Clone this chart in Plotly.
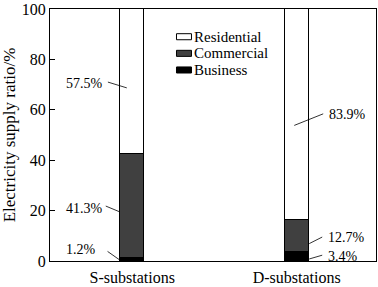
import plotly.graph_objects as go

categories = ["S-substations", "D-substations"]
series_names = ["Business", "Commercial", "Residential"]
business = [1.2, 3.4]
commercial = [41.3, 12.7]
residential = [57.5, 83.9]
colors = {"Business": "#000000", "Commercial": "#404040", "Residential": "#ffffff"}
label_text = {
    "Residential": ["57.5%", "83.9%"],
    "Commercial": ["41.3%", "12.7%"],
    "Business": ["1.2%", "3.4%"],
}
legend_order = ["Residential", "Commercial", "Business"]
yticks = [0, 20, 40, 60, 80, 100]

FONT = "Liberation Serif"
BAR_W = 0.145
xpos = [0, 1]

fig = go.Figure()
values = {"Business": business, "Commercial": commercial, "Residential": residential}
for name in series_names:
    fig.add_trace(go.Bar(
        x=xpos, y=values[name], name=name, width=BAR_W,
        marker=dict(color=colors[name], line=dict(color="black", width=1)),
        showlegend=False,
    ))

# leader lines + labels: (series, index, tip dx, tip y, tail dx, tail y, text dx, text y) in data units
leaders = [
    ("Residential", 0, -0.033, 68.7, -0.148, 71.0, -0.29, 70.6),
    ("Commercial", 0, -0.076, 19.5, -0.161, 21.8, -0.29, 21.0),
    ("Business", 0, -0.076, 0.4, -0.15, 3.8, -0.31, 4.6),
    ("Residential", 1, -0.015, 53.8, 0.161, 58.4, 0.309, 58.0),
    ("Commercial", 1, 0.076, 6.9, 0.155, 9.5, 0.30, 9.5),
    ("Business", 1, 0.076, 0.8, 0.155, 2.3, 0.279, 1.9),
]
for name, i, tx, ty, ax_, ay_, lx, ly in leaders:
    fig.add_shape(type="line", xref="x", yref="y",
                  x0=xpos[i] + tx, y0=ty, x1=xpos[i] + ax_, y1=ay_,
                  line=dict(color="black", width=0.8))
    fig.add_annotation(x=xpos[i] + lx, y=ly, xref="x", yref="y",
                       text=label_text[name][i], showarrow=False,
                       font=dict(family=FONT, size=14, color="black"))

# custom compact legend (paper coordinates)
leg_x0, leg_x1, leg_y0, leg_dy, leg_h = 0.388, 0.434, 0.89, 0.066, 0.012
for k, name in enumerate(legend_order):
    yc = leg_y0 - k * leg_dy
    fig.add_shape(type="rect", xref="paper", yref="paper",
                  x0=leg_x0, x1=leg_x1, y0=yc - leg_h, y1=yc + leg_h,
                  fillcolor=colors[name], line=dict(color="black", width=1))
    fig.add_annotation(x=leg_x1 + 0.003, y=yc, xref="paper", yref="paper",
                       xanchor="left", yanchor="middle", text=name, showarrow=False,
                       font=dict(family=FONT, size=15, color="black"))

fig.update_layout(
    barmode="stack",
    width=378, height=287,
    margin=dict(l=50, r=1, t=5, b=20),
    plot_bgcolor="white", paper_bgcolor="white",
    font=dict(family=FONT, color="black", size=16),
    showlegend=False,
    bargap=0,
)
fig.update_xaxes(
    range=[-0.5, 1.482], tickvals=xpos, ticktext=categories,
    showline=True, linecolor="black", linewidth=1, mirror=True,
    ticks="", showgrid=False, zeroline=False,
    tickfont=dict(family=FONT, size=16), ticklabelstandoff=2,
)
fig.update_yaxes(
    range=[0, 100], tickvals=yticks,
    showline=True, linecolor="black", linewidth=1, mirror=True,
    ticks="inside", ticklen=5, tickcolor="black",
    showgrid=False, zeroline=False, ticklabeloverflow="allow",
    tickfont=dict(family=FONT, size=16),
    title=dict(text="Electricity supply ratio/%", font=dict(family=FONT, size=17), standoff=6),
)

fig.write_html("out.html")
